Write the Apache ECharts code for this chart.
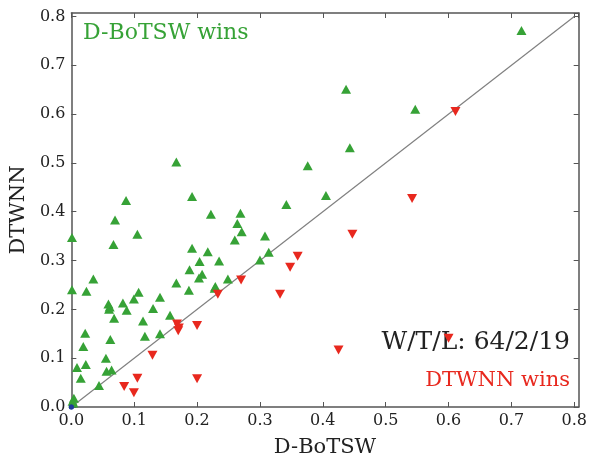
<!DOCTYPE html>
<html>
<head>
<meta charset="utf-8">
<script src="https://cdn.jsdelivr.net/npm/echarts@6/dist/echarts.min.js"></script>
<style>
  html, body { margin: 0; padding: 0; background: #fff; }
  #chart { width: 590px; height: 463px; }
</style>
</head>
<body>
<div id="chart"></div>
<script>
// D-BoTSW 胜出的点 [D-BoTSW, DTWNN]
const botswWins = [
  [0.716, 0.771], [0.437, 0.651], [0.547, 0.610], [0.443, 0.531], [0.376, 0.494],
  [0.405, 0.433], [0.167, 0.502], [0.087, 0.423], [0.192, 0.431], [0.222, 0.395],
  [0.269, 0.397], [0.342, 0.415], [0.0695, 0.383],
  [0.001, 0.347], [0.105, 0.354], [0.067, 0.333], [0.001, 0.240], [0.024, 0.237],
  [0.035, 0.262], [0.192, 0.325], [0.217, 0.318], [0.204, 0.298], [0.188, 0.281],
  [0.208, 0.272], [0.203, 0.264], [0.167, 0.254], [0.187, 0.239], [0.235, 0.299],
  [0.229, 0.247], [0.249, 0.262], [0.260, 0.342], [0.264, 0.376], [0.271, 0.359],
  [0.308, 0.350], [0.314, 0.317], [0.300, 0.301], [0.141, 0.225], [0.107, 0.235],
  [0.0995, 0.221], [0.082, 0.213], [0.088, 0.198], [0.059, 0.211], [0.060, 0.200],
  [0.068, 0.182], [0.130, 0.202], [0.114, 0.176], [0.157, 0.188], [0.117, 0.145],
  [0.141, 0.150], [0.062, 0.138], [0.022, 0.151], [0.019, 0.124], [0.055, 0.100],
  [0.056, 0.073], [0.064, 0.076], [0.023, 0.087], [0.009, 0.081], [0.015, 0.059],
  [0.044, 0.044], [0.004, 0.018], [0.002, 0.012], [0.003, 0.008], [0.228, 0.243],
  [0.061, 0.205]
];

// DTWNN 胜出的点
const dtwnnWins = [
  [0.611, 0.605], [0.542, 0.427], [0.447, 0.354], [0.360, 0.309], [0.348, 0.286],
  [0.332, 0.231], [0.270, 0.260], [0.233, 0.231], [0.425, 0.117], [0.600, 0.141],
  [0.168, 0.170], [0.170, 0.156], [0.200, 0.167], [0.129, 0.106], [0.105, 0.059],
  [0.084, 0.042], [0.0995, 0.029], [0.200, 0.058], [0.171, 0.162]
];

// 平局
const ties = [[0, 0], [0, 0]];

// 对角线
const diagonal = [[0, 0], [0.8, 0.8]];

const axisMax = 0.807;
const serif = 'DejaVu Serif';
const frameColor = '#555';

const chart = echarts.init(document.getElementById('chart'));

const baseAxis = {
  type: 'value',
  min: 0,
  max: axisMax,
  interval: 0.1,
  splitLine: { show: false },
  axisLine: { show: true, onZero: false, lineStyle: { color: frameColor, width: 1.5 } },
  axisTick: { show: true, inside: true, length: 5, lineStyle: { color: frameColor, width: 1 } }
};

const shownLabel = {
  show: true,
  showMaxLabel: false,
  fontFamily: serif,
  fontSize: 16,
  color: '#222',
  formatter: v => v.toFixed(1)
};

const option = {
  animation: false,
  grid: { left: 71, right: 9, top: 13, bottom: 54 },
  xAxis: [
    Object.assign({}, baseAxis, {
      position: 'bottom',
      axisLabel: Object.assign({}, shownLabel, { margin: 6 }),
      name: 'D-BoTSW',
      nameLocation: 'middle',
      nameGap: 30,
      nameTextStyle: { fontFamily: serif, fontSize: 21, color: '#222' }
    }),
    Object.assign({}, baseAxis, { position: 'top', axisLabel: { show: false } })
  ],
  yAxis: [
    Object.assign({}, baseAxis, {
      position: 'left',
      axisLabel: Object.assign({}, shownLabel, { margin: 6 }),
      name: 'DTWNN',
      nameLocation: 'middle',
      nameGap: 36,
      nameTextStyle: { fontFamily: serif, fontSize: 21, color: '#222' }
    }),
    Object.assign({}, baseAxis, { position: 'right', axisLabel: { show: false } })
  ],
  graphic: [
    {
      type: 'text', left: 83, top: 22,
      style: { text: 'D-BoTSW wins', fontFamily: serif, fontSize: 22, fill: '#36a236' }
    },
    {
      type: 'text', right: 20, top: 330,
      style: { text: 'W/T/L: 64/2/19', fontFamily: serif, fontSize: 25, fill: '#222' }
    },
    {
      type: 'text', right: 20, top: 370,
      style: { text: 'DTWNN wins', fontFamily: serif, fontSize: 21, fill: '#e8281e' }
    }
  ],
  series: [
    {
      type: 'line',
      data: diagonal,
      symbol: 'none',
      lineStyle: { color: '#808080', width: 1.2 },
      z: 1,
      silent: true
    },
    {
      name: 'D-BoTSW wins',
      type: 'scatter',
      data: botswWins,
      symbol: 'triangle',
      symbolSize: [10, 9],
      itemStyle: { color: '#36a236', opacity: 1 },
      z: 3
    },
    {
      name: 'DTWNN wins',
      type: 'scatter',
      data: dtwnnWins,
      symbol: 'triangle',
      symbolRotate: 180,
      symbolSize: [10, 9],
      itemStyle: { color: '#e8281e', opacity: 1 },
      z: 4
    },
    {
      name: 'ties',
      type: 'scatter',
      data: ties,
      symbol: 'circle',
      symbolSize: 5,
      itemStyle: { color: '#1f3a9a', opacity: 1 },
      z: 5
    }
  ]
};

chart.setOption(option);
</script>
</body>
</html>
